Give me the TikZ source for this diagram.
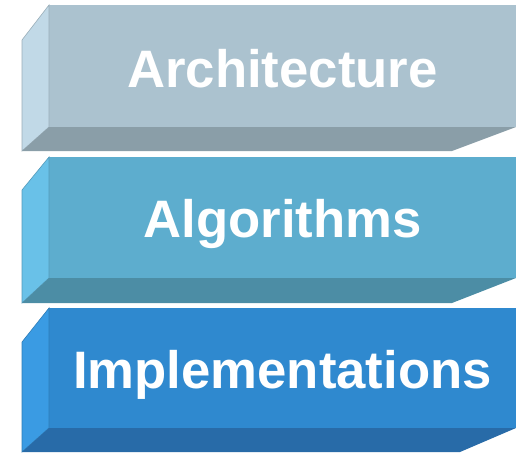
\documentclass[tikz,border=0pt]{standalone}
\usepackage{fontspec}
\setmainfont{Liberation Sans}
\definecolor{archFront}{HTML}{ABC2CF}
\definecolor{archSide}{HTML}{C1D9E7}
\definecolor{archBottom}{HTML}{8A9EA8}
\definecolor{algoFront}{HTML}{5DADCE}
\definecolor{algoSide}{HTML}{69C1E8}
\definecolor{algoBottom}{HTML}{4C8DA5}
\definecolor{implFront}{HTML}{2F89CF}
\definecolor{implSide}{HTML}{3A9BE3}
\definecolor{implBottom}{HTML}{286BA8}
\begin{document}
\begin{tikzpicture}[x=1pt, y=-1pt,
	layertext/.style={text=white, anchor=base, inner sep=0pt, font=\fontsize{52.7}{60}\selectfont\bfseries},
	sideface/.style={fill=#1, draw=#1!80!black, line width=0.6pt},
	plainface/.style={fill=#1}]
	\useasboundingbox (0,0) rectangle (516,452);
	% Architecture
	\fill[plainface=archFront] (49,5) rectangle (516,127);
	\filldraw[sideface=archSide] (22,40) -- (49,5) -- (49,127) -- (22,151) -- cycle;
	\fill[plainface=archBottom] (49,127) -- (516,127) -- (452,151) -- (22,151) -- cycle;
	\node[layertext] (Architecture) at (282.5,87) {Architecture};
	% Algorithms
	\fill[plainface=algoFront] (49,157) rectangle (516,278);
	\filldraw[sideface=algoSide] (22,190) -- (49,157) -- (49,278) -- (22,303) -- cycle;
	\fill[plainface=algoBottom] (49,278) -- (516,278) -- (452,303) -- (22,303) -- cycle;
	\node[layertext] (Algorithms) at (282.5,237) {Algorithms};
	% Implementations
	\fill[plainface=implFront] (49,308) rectangle (516,428);
	\filldraw[sideface=implSide] (22,342) -- (49,308) -- (49,428) -- (22,452) -- cycle;
	\fill[plainface=implBottom] (49,428) -- (516,428) -- (460,452) -- (22,452) -- cycle;
	\node[layertext] (Implementations) at (282.5,388) {Implementations};
\end{tikzpicture}
\end{document}
